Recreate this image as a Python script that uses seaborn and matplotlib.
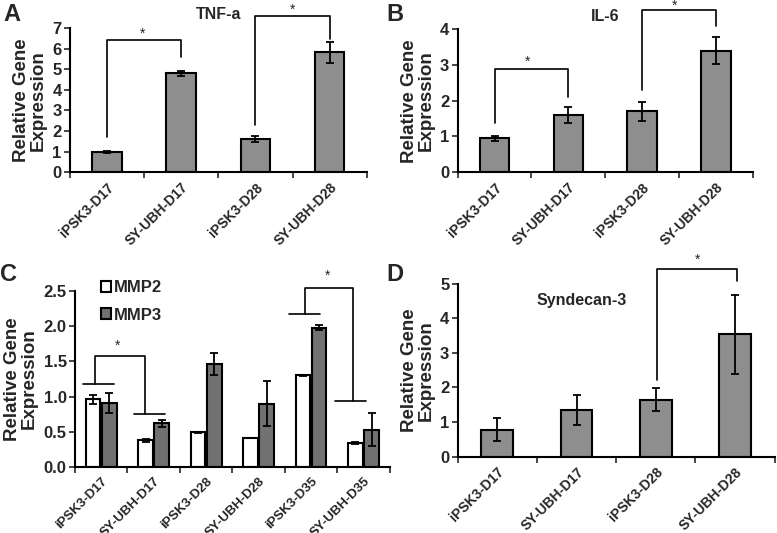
import matplotlib
matplotlib.use("Agg")
import matplotlib.pyplot as plt
import seaborn as sns
import pandas as pd

# --- data ---
samples4 = ["iPSK3-D17", "SY-UBH-D17", "iPSK3-D28", "SY-UBH-D28"]
samples6 = ["iPSK3-D17", "SY-UBH-D17", "iPSK3-D28", "SY-UBH-D28", "iPSK3-D35", "SY-UBH-D35"]

tnf_mean = [0.97, 4.82, 1.60, 5.83]
tnf_err = [0.04, 0.12, 0.15, 0.50]

il6_mean = [0.95, 1.60, 1.70, 3.40]
il6_err = [0.07, 0.22, 0.26, 0.38]

mmp2_mean = [0.96, 0.38, 0.49, 0.41, 1.30, 0.34]
mmp2_err = [0.06, 0.02, 0.01, 0.005, 0.01, 0.01]
mmp3_mean = [0.91, 0.62, 1.46, 0.90, 1.98, 0.53]
mmp3_err = [0.14, 0.05, 0.16, 0.32, 0.03, 0.23]

sdc3_mean = [0.78, 1.35, 1.65, 3.53]
sdc3_err = [0.33, 0.42, 0.33, 1.15]

GRAY = "#8e8e8e"
DARK = "#717171"
FONT = "Liberation Sans"

sns.set_theme(style="ticks")
plt.rcParams["font.family"] = [FONT, "DejaVu Sans"]
plt.rcParams["font.weight"] = "bold"


def style_axis(ax, names, ymax, ystep, fmt, xsize=10):
    n = len(names)
    ax.set_xlim(-0.5, n - 0.5)
    ax.set_ylim(0, ymax)
    sns.despine(ax=ax)
    for s in ["left", "bottom"]:
        ax.spines[s].set_linewidth(1.5)
        ax.spines[s].set_color("black")
    ticks = [i * ystep for i in range(int(round(ymax / ystep)) + 1)]
    ax.set_yticks(ticks)
    ax.set_yticklabels([fmt.format(t) for t in ticks], fontsize=12, fontweight="bold")
    # category labels at centres, tick marks at boundaries (Excel style)
    ax.set_xticks(range(n))
    ax.set_xticklabels(names, rotation=45, ha="right", rotation_mode="anchor",
                       fontsize=xsize, fontweight="bold")
    ax.tick_params(axis="x", which="major", length=0, pad=6)
    ax.set_xticks([i - 0.5 for i in range(n + 1)], minor=True)
    ax.tick_params(axis="x", which="minor", length=4, width=1.2, direction="out")
    ax.tick_params(axis="y", length=4, width=1.2, pad=2)
    ax.set_xlabel("")
    ax.set_ylabel("Relative Gene\nExpression", fontsize=13.5, fontweight="bold",
                  linespacing=1.0, labelpad=4)


def add_errors(ax, container, err):
    for bar, e in zip(container, err):
        ax.errorbar(bar.get_x() + bar.get_width() / 2, bar.get_height(), yerr=e,
                    fmt="none", ecolor="black", elinewidth=1.3, capsize=3,
                    capthick=1.3, zorder=5)


def bar_panel(ax, names, mean, err, ymax, ystep):
    df = pd.DataFrame({"sample": names, "value": mean})
    sns.barplot(data=df, x="sample", y="value", color=GRAY, saturation=1,
                edgecolor="black", linewidth=1.5, width=0.4, errorbar=None, ax=ax)
    add_errors(ax, ax.containers[0], err)
    style_axis(ax, names, ymax, ystep, "{:.0f}")


def bracket(ax, x1, x2, y1, y2, ytop, xstar, ystar):
    ax.plot([x1, x1, x2, x2], [y1, ytop, ytop, y2], color="black", lw=1.2,
            clip_on=False, zorder=6)
    ax.text(xstar, ystar, "*", ha="center", va="center", fontsize=10,
            fontweight="normal", clip_on=False)


fig = plt.figure(figsize=(7.77, 5.33), dpi=100)

# A: TNF-a
axA = fig.add_axes([0.090, 0.677, 0.382, 0.270])
bar_panel(axA, samples4, tnf_mean, tnf_err, 7, 1)
bracket(axA, 0, 1, 1.7, 5.6, 6.42, 0.48, 6.75)
bracket(axA, 2, 3, 2.28, 6.5, 7.6, 2.5, 7.92)
axA.text(0.5, 1.04, "TNF-a", transform=axA.transAxes, ha="center", va="bottom",
         fontsize=11.5, fontweight="bold")

# B: IL-6
axB = fig.add_axes([0.589, 0.677, 0.380, 0.268])
bar_panel(axB, samples4, il6_mean, il6_err, 4, 1)
bracket(axB, 0, 1, 1.37, 2.1, 2.88, 0.45, 3.1)
bracket(axB, 2, 3, 2.3, 4.1, 4.55, 2.44, 4.66)
axB.text(0.5, 1.04, "IL-6", transform=axB.transAxes, ha="center", va="bottom",
         fontsize=11.5, fontweight="bold")

# C: MMP2 / MMP3
axC = fig.add_axes([0.0965, 0.124, 0.405, 0.330])
dfC = pd.DataFrame({
    "sample": samples6 * 2,
    "value": mmp2_mean + mmp3_mean,
    "gene": ["MMP2"] * len(samples6) + ["MMP3"] * len(samples6),
})
sns.barplot(data=dfC, x="sample", y="value", hue="gene", palette=["white", DARK],
            saturation=1, edgecolor="black", linewidth=1.5, width=0.62, gap=0.1,
            errorbar=None, ax=axC)
add_errors(axC, axC.containers[0], mmp2_err)
add_errors(axC, axC.containers[1], mmp3_err)
style_axis(axC, samples6, 2.5, 0.5, "{:.1f}", xsize=9.5)
leg = axC.legend(loc="upper left", bbox_to_anchor=(0.06, 1.1), frameon=False,
                 fontsize=12, handlelength=0.6, handleheight=0.6, handletextpad=0.2,
                 labelspacing=0.75, borderaxespad=0)
for t in leg.get_texts():
    t.set_fontweight("bold")
# group lines + brackets
for xc, yl in [(-0.05, 1.18), (0.92, 0.75), (3.88, 2.17), (4.75, 0.93)]:
    axC.plot([xc - 0.3, xc + 0.3], [yl, yl], color="black", lw=1.2, clip_on=False)
bracket(axC, -0.12, 0.83, 1.18, 0.75, 1.58, 0.32, 1.72)
bracket(axC, 3.88, 4.8, 2.17, 0.93, 2.55, 4.32, 2.72)

# D: Syndecan-3
axD = fig.add_axes([0.589, 0.143, 0.408, 0.325])
bar_panel(axD, samples4, sdc3_mean, sdc3_err, 5, 1)
bracket(axD, 2.01, 3.02, 2.23, 5.06, 5.43, 2.53, 5.7)
axD.text(0.25, 0.9, "Syndecan-3", transform=axD.transAxes, ha="left", va="center",
         fontsize=11.5, fontweight="bold")

# panel letters
for letter, x, y in [("A", 0.005, 0.972), ("B", 0.497, 0.972), ("C", 0.0, 0.485), ("D", 0.497, 0.485)]:
    fig.text(x, y, letter, fontsize=17, fontweight="bold", ha="left", va="center")

fig.savefig("out.png", dpi=100)
